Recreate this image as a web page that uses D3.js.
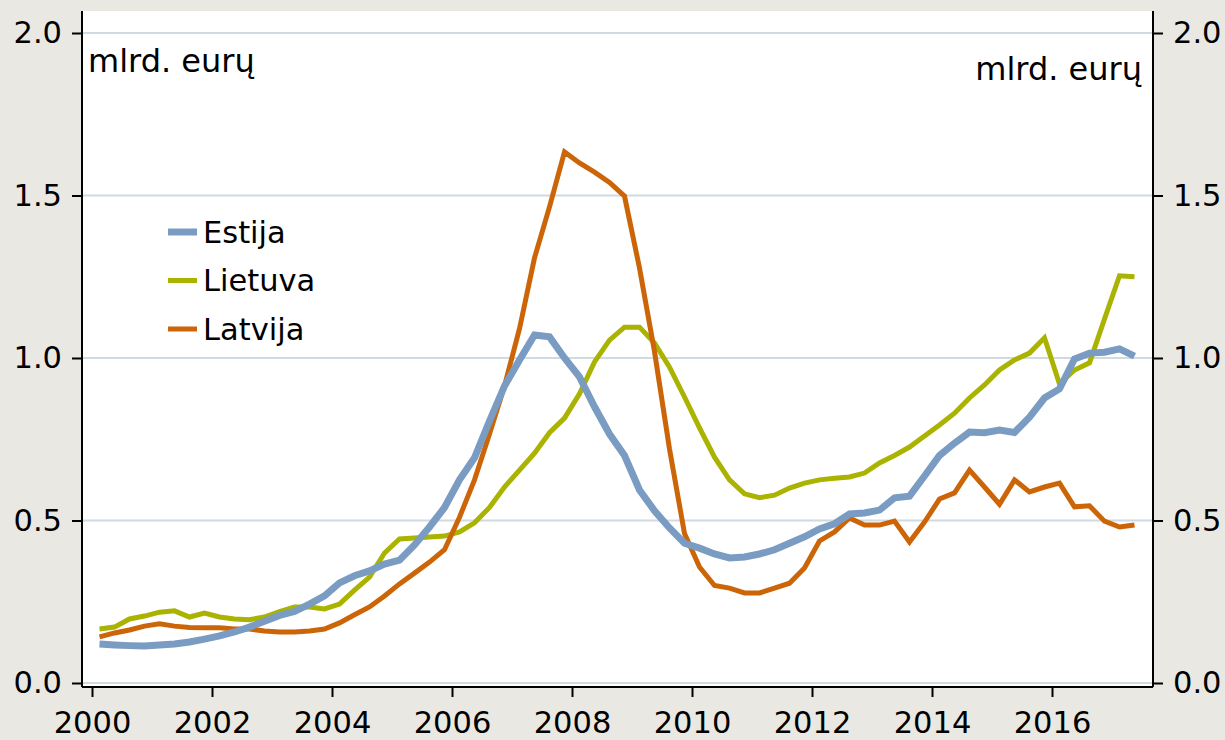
<!DOCTYPE html>
<html>
<head>
<meta charset="utf-8">
<script src="https://cdn.jsdelivr.net/npm/d3@7/dist/d3.min.js"></script>
<style>
  body { margin: 0; background: #e9e8e3; }
  svg { display: block; font-family: "DejaVu Sans", Verdana, sans-serif; }
</style>
</head>
<body>
<svg width="1225" height="740"></svg>
<script>
// quarterly data, 2000Q1 .. 2017Q2, mlrd. eurų
var startYear = 2000;

var estija = [
  0.12, 0.117, 0.115, 0.114, 0.117, 0.12, 0.126, 0.135, 0.145, 0.157,
  0.172, 0.19, 0.208, 0.22, 0.243, 0.268, 0.308, 0.33, 0.345, 0.366,
  0.378, 0.425, 0.48, 0.54, 0.625, 0.693, 0.806, 0.914, 0.994, 1.071,
  1.065, 1.0, 0.942, 0.85, 0.766, 0.70, 0.594, 0.53, 0.477, 0.43,
  0.415, 0.397, 0.385, 0.388, 0.397, 0.41, 0.43, 0.45, 0.474, 0.49,
  0.52, 0.523, 0.532, 0.57, 0.575, 0.637, 0.70, 0.738, 0.772, 0.77,
  0.778, 0.771, 0.818, 0.877, 0.905, 0.997, 1.015, 1.018, 1.028, 1.006
];

var lietuva = [
  0.166, 0.172, 0.197, 0.206, 0.218, 0.222, 0.203, 0.215, 0.203, 0.197,
  0.195, 0.203, 0.22, 0.234, 0.234, 0.228, 0.243, 0.286, 0.326, 0.40,
  0.443, 0.446, 0.449, 0.452, 0.465, 0.493, 0.54, 0.603, 0.655, 0.707,
  0.77, 0.815, 0.89, 0.988, 1.055, 1.095, 1.095, 1.046, 0.972, 0.88,
  0.785, 0.695, 0.625, 0.582, 0.57, 0.578, 0.60, 0.615, 0.625, 0.63,
  0.634, 0.646, 0.677, 0.70, 0.726, 0.76, 0.794, 0.83, 0.877, 0.917,
  0.963, 0.994, 1.015, 1.062, 0.92, 0.963, 0.985, 1.12, 1.253, 1.25
];

var latvija = [
  0.142, 0.154, 0.163, 0.175, 0.182, 0.175, 0.171, 0.17, 0.17, 0.166,
  0.166, 0.16, 0.157, 0.157, 0.16, 0.166, 0.185, 0.21, 0.234, 0.268,
  0.305, 0.338, 0.372, 0.41, 0.51, 0.625, 0.766, 0.914, 1.09, 1.308,
  1.465, 1.634, 1.60, 1.572, 1.54, 1.498, 1.277, 1.02, 0.72, 0.46,
  0.357, 0.30, 0.292, 0.277, 0.277, 0.292, 0.307, 0.354, 0.437, 0.465,
  0.508, 0.486, 0.486, 0.498, 0.434, 0.495, 0.566, 0.585, 0.655, 0.603,
  0.55, 0.625, 0.588, 0.603, 0.615, 0.542, 0.545, 0.498, 0.48, 0.486
];

var seriesNames = ["Estija", "Lietuva", "Latvija"];
var seriesColors = ["#7a9cc2", "#a9b300", "#cc6508"];
var seriesWidths = [7, 5, 5];
var yTicks = [0, 0.5, 1.0, 1.5, 2.0];
var xTicks = [2000, 2002, 2004, 2006, 2008, 2010, 2012, 2014, 2016];
var unitLabel = "mlrd. eurų";

var svg = d3.select("svg");
var plot = {left: 82, right: 1153, top: 11, bottom: 687};

var x = d3.scaleLinear().domain([2000, 2018]).range([92, 1172]);
var y = d3.scaleLinear().domain([0, 2]).range([683, 33]);

// plot background
svg.append("rect")
  .attr("x", plot.left).attr("y", plot.top)
  .attr("width", plot.right - plot.left)
  .attr("height", plot.bottom - plot.top)
  .attr("fill", "#fff");

// grid
svg.append("g")
  .selectAll("line")
  .data(yTicks)
  .enter().append("line")
    .attr("x1", plot.left).attr("x2", plot.right)
    .attr("y1", function(d) { return y(d); })
    .attr("y2", function(d) { return y(d); })
    .attr("stroke", "#cfdae1")
    .attr("stroke-width", 2);

// axes
var yLeft = svg.append("g")
  .attr("transform", "translate(" + plot.left + ",0)")
  .call(d3.axisLeft(y).tickValues(yTicks).tickFormat(d3.format(".1f")).tickSize(10).tickPadding(10));
var yRight = svg.append("g")
  .attr("transform", "translate(" + plot.right + ",0)")
  .call(d3.axisRight(y).tickValues(yTicks).tickFormat(d3.format(".1f")).tickSize(10).tickPadding(10));
var xAxis = svg.append("g")
  .attr("transform", "translate(0," + plot.bottom + ")")
  .call(d3.axisBottom(x).tickValues(xTicks).tickFormat(d3.format("d")).tickSize(10).tickPadding(12));

[yLeft, yRight, xAxis].forEach(function(g) {
  g.select(".domain").remove();
  g.selectAll(".tick line").attr("stroke", "#000").attr("stroke-width", 2);
  g.selectAll(".tick text")
    .attr("fill", "#000")
    .style("font-size", "30.5px")
    .style("font-family", "'DejaVu Sans', Verdana, sans-serif");
});
xAxis.selectAll(".tick text").attr("dy", "0.78em");

// axis lines
var frame = svg.append("g").attr("stroke", "#000").attr("stroke-width", 2);
frame.append("line").attr("x1", plot.left).attr("x2", plot.left).attr("y1", plot.top).attr("y2", plot.bottom);
frame.append("line").attr("x1", plot.right).attr("x2", plot.right).attr("y1", plot.top).attr("y2", plot.bottom);
frame.append("line").attr("x1", plot.left).attr("x2", plot.right).attr("y1", plot.bottom).attr("y2", plot.bottom);

// lines
var data = [estija, lietuva, latvija];
var line = d3.line()
  .x(function(d, i) { return x(startYear + i / 4 + 0.125); })
  .y(function(d) { return y(d); });

[1, 2, 0].forEach(function(k) {
  svg.append("path")
    .datum(data[k])
    .attr("fill", "none")
    .attr("stroke", seriesColors[k])
    .attr("stroke-width", seriesWidths[k])
    .attr("stroke-linejoin", "miter")
    .attr("d", line);
});

// unit labels
svg.append("text")
  .attr("x", 88).attr("y", 72)
  .style("font-size", "32px")
  .text(unitLabel);
svg.append("text")
  .attr("x", 1142).attr("y", 80)
  .attr("text-anchor", "end")
  .style("font-size", "32px")
  .text(unitLabel);

// legend
var legend = svg.append("g");
seriesNames.forEach(function(name, k) {
  var ly = 232 + k * 48.5;
  legend.append("line")
    .attr("x1", 168).attr("x2", 197)
    .attr("y1", ly).attr("y2", ly)
    .attr("stroke", seriesColors[k])
    .attr("stroke-width", seriesWidths[k]);
  legend.append("text")
    .attr("x", 203).attr("y", ly)
    .attr("dy", "0.36em")
    .style("font-size", "30.5px")
    .text(name);
});
</script>
</body>
</html>
